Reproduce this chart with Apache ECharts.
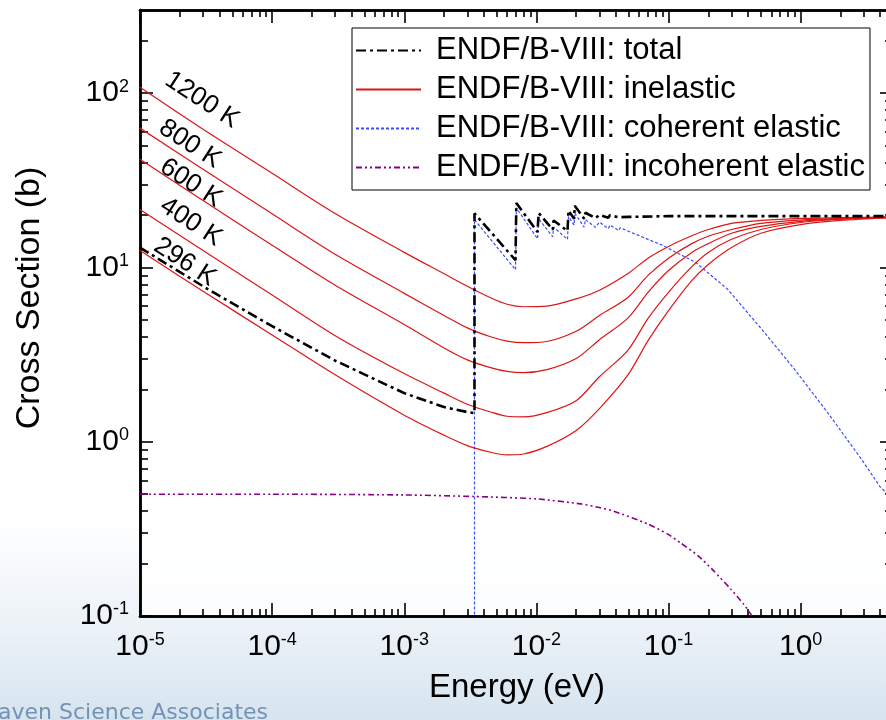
<!DOCTYPE html>
<html>
<head>
<meta charset="utf-8">
<title>Cross sections</title>
<script src="https://cdn.jsdelivr.net/npm/echarts@6/dist/echarts.min.js"></script>
<style>
    html, body { margin: 0; padding: 0; background: #fff; }
    #chart { width: 886px; height: 720px; }
</style>
</head>
<body>
<div id="chart"></div>
<script>
    // energy grid used by the inelastic curves (eV)
    const inelEnergy = [1e-5, 3e-5, 1e-4, 3e-4, 1e-3, 2e-3, 3e-3, 4.5e-3, 6e-3, 8e-3, 1.2e-2, 2e-2, 3e-2, 4.9e-2, 7e-2, 1e-1, 1.5e-1, 2e-1, 3e-1, 5e-1, 1, 2, 5];
    const inel1200 = [108, 62, 34.7, 20.4, 12.2, 9.2, 7.8, 6.7, 6.15, 5.95, 6.0, 6.6, 7.4, 9.2, 11.3, 13.2, 15.2, 16.5, 17.9, 18.6, 19.1, 19.3, 19.5];
    const inel800 = [63, 36.6, 20.3, 11.9, 7.1, 5.3, 4.5, 4.0, 3.78, 3.7, 3.76, 4.3, 5.3, 6.7, 9.0, 11.3, 13.7, 15.1, 16.5, 17.9, 18.7, 19.1, 19.5];
    const inel600 = [41.8, 24.2, 13.4, 7.9, 4.7, 3.45, 2.95, 2.66, 2.53, 2.49, 2.59, 3.0, 3.85, 5.1, 7.2, 9.6, 12.2, 13.7, 15.7, 17.2, 18.4, 19.0, 19.5];
    const inel400 = [21.5, 12.5, 6.95, 4.06, 2.46, 1.9, 1.64, 1.48, 1.4, 1.39, 1.47, 1.72, 2.36, 3.33, 5.1, 7.2, 10.1, 12.2, 14.5, 16.5, 18.1, 18.9, 19.3];
    const inel296 = [12.5, 7.3, 4.1, 2.42, 1.42, 1.09, 0.95, 0.87, 0.84, 0.85, 0.94, 1.16, 1.55, 2.4, 3.8, 5.65, 8.4, 10.4, 13.0, 15.7, 17.6, 18.6, 19.3];
    const tempLabels = ['1200 K', '800 K', '600 K', '400 K', '296 K'];

    const totalEnergy = [1e-5, 3e-5, 1e-4, 3e-4, 1e-3, 2e-3, 3e-3, 3.4e-3, 3.4e-3, 6.95e-3, 7.05e-3, 1.02e-2, 1.04e-2, 1.33e-2, 1.35e-2, 1.72e-2, 1.75e-2, 1.93e-2, 1.95e-2, 2.3e-2, 2.35e-2, 2.8e-2, 3.0e-2, 3.5e-2, 3.6e-2, 4.2e-2, 4.3e-2, 5e-2, 0.1, 0.3, 1, 5];
    const totalValue = [13.0, 7.8, 4.6, 2.92, 1.9, 1.58, 1.48, 1.46, 20.4, 11.0, 23.4, 16.0, 20.5, 16.5, 18.6, 16.2, 21.2, 19.0, 22.6, 19.0, 20.6, 19.2, 20.0, 19.3, 19.9, 19.4, 19.8, 19.5, 19.7, 19.7, 19.7, 19.7];

    const cohEnergy = [3.4e-3, 3.4e-3, 6.95e-3, 7.05e-3, 1.02e-2, 1.04e-2, 1.33e-2, 1.35e-2, 1.72e-2, 1.75e-2, 1.93e-2, 1.95e-2, 2.3e-2, 2.35e-2, 2.8e-2, 3.0e-2, 3.5e-2, 3.6e-2, 4.2e-2, 4.3e-2, 5e-2, 9e-2, 0.16, 0.28, 0.51, 0.9, 1.6, 2.9, 4.0, 5];
    const cohValue = [0.001, 18.8, 9.7, 22.0, 14.6, 19.0, 15.0, 17.0, 14.5, 19.6, 17.5, 20.5, 17.0, 18.8, 17.0, 18.2, 16.7, 17.5, 16.3, 16.9, 16.1, 13.4, 10.7, 7.5, 4.4, 2.6, 1.47, 0.79, 0.55, 0.47];

    const incohEnergy = [1e-5, 1e-4, 1e-3, 3.4e-3, 1e-2, 2.16e-2, 3.05e-2, 3.83e-2, 6.93e-2, 9.8e-2, 0.123, 0.167, 0.219, 0.295, 0.37, 0.433, 0.5];
    const incohValue = [0.50, 0.50, 0.495, 0.485, 0.47, 0.44, 0.418, 0.40, 0.338, 0.296, 0.263, 0.222, 0.182, 0.143, 0.117, 0.099, 0.085];

    const xDecades = [-5, -4, -3, -2, -1, 0];
    const yDecades = [-1, 0, 1, 2];
    const legendNames = ['ENDF/B-VIII: total', 'ENDF/B-VIII: inelastic', 'ENDF/B-VIII: coherent elastic', 'ENDF/B-VIII: incoherent elastic'];

    const FONT = 'Liberation Sans';
    const xMin = 1e-5, xMax = 5, yMin = 0.1, yMax = 300;

    function zip(xs, ys) {
        return xs.map((x, i) => [x, ys[i]]);
    }
    function majors(decs) {
        return decs.map(d => Math.pow(10, d));
    }
    function minors(decs, lo, hi) {
        let out = [];
        decs.forEach(d => {
            for (let k = 2; k <= 9; k++) {
                let v = k * Math.pow(10, d);
                if (v > lo && v < hi) out.push(v);
            }
        });
        return out;
    }

    const supRich = {
        b: { fontSize: 30, fontFamily: FONT, color: '#000', lineHeight: 31 },
        s: { fontSize: 18, fontFamily: FONT, color: '#000', lineHeight: 18, verticalAlign: 'top' }
    };
    function powLabel(v) {
        let e = Math.round(Math.log10(v));
        return '{b|10}{s|' + e + '}';
    }

    function makeAxis(kind, position, ticks, len, labels) {
        let ax = {
            type: 'log',
            logBase: 10,
            min: kind === 'x' ? xMin : yMin,
            max: kind === 'x' ? xMax : yMax,
            position: position,
            axisLine: { show: true, onZero: false, lineStyle: { color: '#000', width: 2.5 } },
            axisTick: { show: true, inside: true, length: len, customValues: ticks, lineStyle: { color: '#000', width: 1.6 } },
            axisLabel: { show: false },
            splitLine: { show: false },
            minorTick: { show: false }
        };
        if (labels) {
            ax.axisLabel = {
                show: true,
                customValues: labels,
                margin: kind === 'x' ? 15 : 11,
                formatter: powLabel,
                rich: supRich
            };
        }
        return ax;
    }

    const xMaj = majors(xDecades), xMin2 = minors(xDecades, xMin, xMax);
    const yMaj = majors(yDecades), yMin2 = minors(yDecades, yMin, yMax);

    const redStyle = { color: '#dd1515', width: 1.2 };
    const inelSets = [inel1200, inel800, inel600, inel400, inel296];

    let series = [];
    series.push({
        name: legendNames[3], type: 'line', xAxisIndex: 0, yAxisIndex: 0,
        symbol: 'none', data: zip(incohEnergy, incohValue), smooth: 0.2,
        lineStyle: { color: '#880088', width: 1.6, type: [6, 3, 2, 3, 2, 3] },
        itemStyle: { color: '#880088' }
    });
    series.push({
        name: legendNames[2], type: 'line', xAxisIndex: 0, yAxisIndex: 0,
        symbol: 'none', data: zip(cohEnergy, cohValue),
        lineStyle: { color: '#3a4cff', width: 1.2, type: [3, 2] },
        itemStyle: { color: '#3a4cff' }
    });
    inelSets.forEach(vals => {
        series.push({
            name: legendNames[1], type: 'line', xAxisIndex: 0, yAxisIndex: 0,
            symbol: 'none', data: zip(inelEnergy, vals), smooth: 0.3,
            lineStyle: redStyle, itemStyle: { color: '#dd1515' }
        });
    });
    series.push({
        name: legendNames[0], type: 'line', xAxisIndex: 0, yAxisIndex: 0,
        symbol: 'none', data: zip(totalEnergy, totalValue),
        lineStyle: { color: '#000', width: 2.6, type: [10, 4, 3, 4] },
        itemStyle: { color: '#000' }
    });

    // annotation positions for the temperature labels
    const labelPos = [[202, 100], [190, 144], [191, 183], [191, 222], [185, 262]];
    let graphics = labelPos.map((p, i) => ({
        type: 'text', x: p[0], y: p[1], rotation: -33 * Math.PI / 180, z: 50,
        style: { text: tempLabels[i], font: '26px "' + FONT + '"', fill: '#000', align: 'center', verticalAlign: 'middle', textAlign: 'center', textVerticalAlign: 'middle' }
    }));
    graphics.push({
        type: 'text', x: 517, y: 688, z: 50,
        style: { text: 'Energy (eV)', font: '33px "' + FONT + '"', fill: '#000', align: 'center', verticalAlign: 'middle', textAlign: 'center', textVerticalAlign: 'middle' }
    });
    graphics.push({
        type: 'text', x: 30, y: 298, rotation: Math.PI / 2, z: 50,
        style: { text: 'Cross Section (b)', font: '34px "' + FONT + '"', fill: '#000', align: 'center', verticalAlign: 'middle', textAlign: 'center', textVerticalAlign: 'middle' }
    });
    graphics.push({
        type: 'text', x: 268, y: 702, z: 1,
        style: { text: 'Brookhaven Science Associates', font: '22px "DejaVu Sans"', fill: '#7393b4', align: 'right', verticalAlign: 'top', textAlign: 'right', textVerticalAlign: 'top' }
    });

    let option = {
        animation: false,
        backgroundColor: {
            type: 'linear', x: 0, y: 0, x2: 0, y2: 1,
            colorStops: [
                { offset: 0, color: '#ffffff' },
                { offset: 0.72, color: '#ffffff' },
                { offset: 0.88, color: '#eaf1f7' },
                { offset: 1, color: '#d6e4ef' }
            ]
        },
        grid: {
            left: 140, right: -7, top: 10, bottom: 104, outerBoundsMode: 'none', containLabel: false,
            show: true, backgroundColor: 'rgba(255,255,255,0.8)', borderWidth: 0
        },
        legend: {
            data: legendNames,
            orient: 'vertical',
            left: 352, top: 28,
            padding: [7, 5, 7, 3],
            itemWidth: 65, itemHeight: 14, itemGap: 8,
            selectedMode: false,
            itemStyle: { opacity: 0 },
            backgroundColor: '#fff', borderColor: '#000', borderWidth: 1,
            textStyle: { fontSize: 31, fontFamily: FONT, color: '#000', lineHeight: 30, padding: [0, 0, 0, 10] }
        },
        xAxis: [
            makeAxis('x', 'bottom', xMaj, 13, xMaj),
            makeAxis('x', 'bottom', xMin2, 7, null),
            makeAxis('x', 'top', xMaj, 13, null),
            makeAxis('x', 'top', xMin2, 7, null)
        ],
        yAxis: [
            makeAxis('y', 'left', yMaj, 13, yMaj),
            makeAxis('y', 'left', yMin2, 8, null),
            makeAxis('y', 'right', yMaj, 13, null),
            makeAxis('y', 'right', yMin2, 8, null)
        ],
        graphic: graphics,
        series: series
    };

    let chart = echarts.init(document.getElementById('chart'));
    chart.setOption(option);
</script>
</body>
</html>
